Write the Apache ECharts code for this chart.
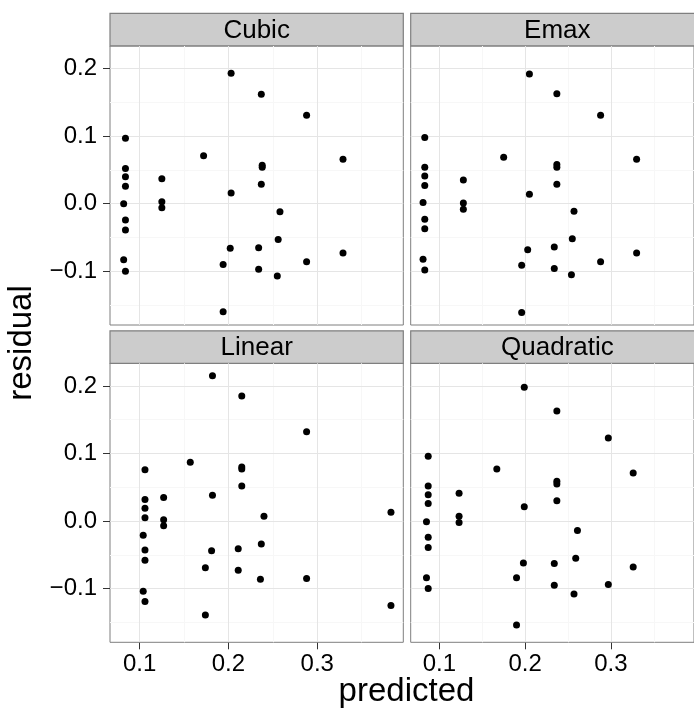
<!DOCTYPE html>
<html>
<head>
<meta charset="utf-8">
<script src="https://cdn.jsdelivr.net/npm/echarts@6/dist/echarts.min.js"></script>
<style>
  html, body { margin: 0; padding: 0; background: #fff; }
  #chart { width: 694px; height: 715px; }
</style>
</head>
<body>
<div id="chart"></div>
<script>
// residual vs predicted, one panel per model
var panelNames = ['Cubic', 'Emax', 'Linear', 'Quadratic'];

var cubicX = [0.203, 0.237, 0.288, 0.084, 0.172, 0.329, 0.238, 0.238, 0.084, 0.084, 0.125, 0.084, 0.237, 0.203, 0.082, 0.125, 0.125, 0.258, 0.084, 0.084, 0.256, 0.202, 0.234, 0.329, 0.082, 0.288, 0.194, 0.084, 0.234, 0.255, 0.194];
var cubicY = [0.193, 0.162, 0.131, 0.097, 0.071, 0.066, 0.057, 0.054, 0.052, 0.040, 0.037, 0.026, 0.029, 0.016, 0.000, 0.003, -0.006, -0.012, -0.024, -0.039, -0.053, -0.066, -0.065, -0.073, -0.083, -0.086, -0.090, -0.100, -0.097, -0.107, -0.160];

var emaxX = [0.205, 0.237, 0.288, 0.083, 0.175, 0.330, 0.237, 0.237, 0.083, 0.083, 0.128, 0.083, 0.237, 0.205, 0.081, 0.128, 0.128, 0.257, 0.083, 0.083, 0.255, 0.203, 0.234, 0.330, 0.081, 0.288, 0.196, 0.083, 0.234, 0.254, 0.196];
var emaxY = [0.192, 0.163, 0.131, 0.098, 0.069, 0.066, 0.058, 0.054, 0.054, 0.041, 0.035, 0.027, 0.029, 0.014, 0.002, 0.001, -0.008, -0.011, -0.023, -0.037, -0.052, -0.068, -0.064, -0.073, -0.082, -0.086, -0.091, -0.098, -0.096, -0.105, -0.161];

var linearX = [0.182, 0.215, 0.288, 0.157, 0.215, 0.215, 0.106, 0.215, 0.182, 0.106, 0.127, 0.106, 0.383, 0.106, 0.240, 0.127, 0.127, 0.104, 0.106, 0.181, 0.211, 0.237, 0.106, 0.174, 0.211, 0.236, 0.288, 0.104, 0.106, 0.383, 0.174];
var linearY = [0.215, 0.185, 0.132, 0.087, 0.080, 0.077, 0.076, 0.052, 0.038, 0.032, 0.035, 0.019, 0.013, 0.005, 0.007, 0.002, -0.007, -0.021, -0.043, -0.044, -0.041, -0.034, -0.058, -0.069, -0.073, -0.086, -0.085, -0.104, -0.119, -0.125, -0.139];

var quadX = [0.199, 0.237, 0.297, 0.087, 0.167, 0.326, 0.237, 0.237, 0.087, 0.087, 0.123, 0.087, 0.237, 0.199, 0.085, 0.123, 0.123, 0.261, 0.087, 0.087, 0.259, 0.198, 0.234, 0.326, 0.085, 0.190, 0.297, 0.087, 0.234, 0.257, 0.190];
var quadY = [0.198, 0.163, 0.123, 0.096, 0.077, 0.071, 0.059, 0.055, 0.052, 0.039, 0.041, 0.026, 0.030, 0.021, -0.001, 0.007, -0.002, -0.014, -0.024, -0.039, -0.055, -0.062, -0.063, -0.068, -0.084, -0.084, -0.094, -0.100, -0.095, -0.108, -0.154];

var xTicks = [0.1, 0.2, 0.3];
var xMinor = [0.15, 0.25, 0.35];
var yTicks = [-0.1, 0, 0.1, 0.2];
var yMinor = [-0.15, -0.05, 0.05, 0.15];

var allX = [cubicX, emaxX, linearX, quadX];
var allY = [cubicY, emaxY, linearY, quadY];

var FONT = '"Liberation Sans", Arial, Helvetica, sans-serif';
var majorCol = '#E5E5E5', minorCol = '#F7F7F7', borderCol = '#7F7F7F';

// panel boxes (px)
var colLeft = [110, 410.7];
var rowTop = [46, 363.3];
var panelW = 293.3, panelH = 279;
var stripH = 32.5;

function fmt(v) {
    return (v < 0 ? '\u2212' : '') + Math.abs(v).toFixed(1);
}

function pairs(xs, ys) {
    var out = [];
    for (var i = 0; i < xs.length; i++) out.push([xs[i], ys[i]]);
    return out;
}

function buildOption() {
    var grids = [], xAxes = [], yAxes = [], seriesList = [], graphics = [];

    for (var p = 0; p < 4; p++) {
        var col = p % 2, row = Math.floor(p / 2);
        var panelLeft = colLeft[col], panelTop = rowTop[row];

        grids.push({
            left: panelLeft, top: panelTop, width: panelW, height: panelH,
            show: true, backgroundColor: '#fff', borderColor: borderCol, borderWidth: 1
        });

        xAxes.push({
            gridIndex: p, type: 'value', min: 0.0666, max: 0.3969,
            splitLine: { show: false },
            axisLine: { show: false, onZero: false },
            axisTick: { show: row === 1, length: 7, customValues: xTicks, lineStyle: { color: '#333', width: 1 } },
            axisLabel: { show: row === 1, customValues: xTicks, formatter: fmt, fontSize: 24, color: '#000', fontFamily: FONT, margin: 10 }
        });

        yAxes.push({
            gridIndex: p, type: 'value', min: -0.1795, max: 0.2335,
            splitLine: { show: false },
            axisLine: { show: false, onZero: false },
            axisTick: { show: col === 0, length: 7, customValues: yTicks, lineStyle: { color: '#333', width: 1 } },
            axisLabel: { show: col === 0, customValues: yTicks, formatter: fmt, fontSize: 24, color: '#000', fontFamily: FONT, margin: 13 }
        });

        // background grid lines drawn as mark lines, kept under the points
        var lines = [];
        xMinor.forEach(function (v) { lines.push({ xAxis: v, lineStyle: { color: minorCol } }); });
        yMinor.forEach(function (v) { lines.push({ yAxis: v, lineStyle: { color: minorCol } }); });
        xTicks.forEach(function (v) { lines.push({ xAxis: v, lineStyle: { color: majorCol } }); });
        yTicks.forEach(function (v) { lines.push({ yAxis: v, lineStyle: { color: majorCol } }); });

        seriesList.push({
            type: 'scatter', xAxisIndex: p, yAxisIndex: p, data: [], z: 1, silent: true,
            markLine: {
                z: 1, silent: true, animation: false, symbol: ['none', 'none'],
                label: { show: false },
                lineStyle: { type: 'solid', width: 1 },
                emphasis: { disabled: true },
                data: lines
            }
        });

        seriesList.push({
            type: 'scatter', xAxisIndex: p, yAxisIndex: p, z: 10,
            symbolSize: 7,
            itemStyle: { color: '#000', opacity: 1 },
            data: pairs(allX[p], allY[p])
        });

        // facet strip
        var stripTop = row === 0 ? 13.3 : 330.8;
        graphics.push({
            type: 'rect', silent: true,
            shape: { x: panelLeft, y: stripTop, width: panelW, height: stripH },
            style: { fill: '#CCCCCC', stroke: borderCol, lineWidth: 1.2 }
        });
        graphics.push({
            type: 'text', silent: true,
            x: panelLeft + panelW / 2, y: stripTop + stripH / 2 + 1,
            style: { text: panelNames[p], font: '26px ' + FONT, fill: '#000', align: 'center', verticalAlign: 'middle' }
        });
    }

    graphics.push({
        type: 'text', silent: true, x: 406.5, y: 692,
        style: { text: 'predicted', font: '33px ' + FONT, fill: '#000', align: 'center', verticalAlign: 'middle' }
    });
    graphics.push({
        type: 'text', silent: true, x: 22, y: 343, rotation: Math.PI / 2,
        style: { text: 'residual', font: '33px ' + FONT, fill: '#000', align: 'center', verticalAlign: 'middle' }
    });

    return {
        animation: false,
        backgroundColor: '#fff',
        grid: grids,
        xAxis: xAxes,
        yAxis: yAxes,
        series: seriesList,
        graphic: graphics
    };
}

var chart = echarts.init(document.getElementById('chart'), null, { renderer: 'canvas' });
chart.setOption(buildOption());
</script>
</body>
</html>
